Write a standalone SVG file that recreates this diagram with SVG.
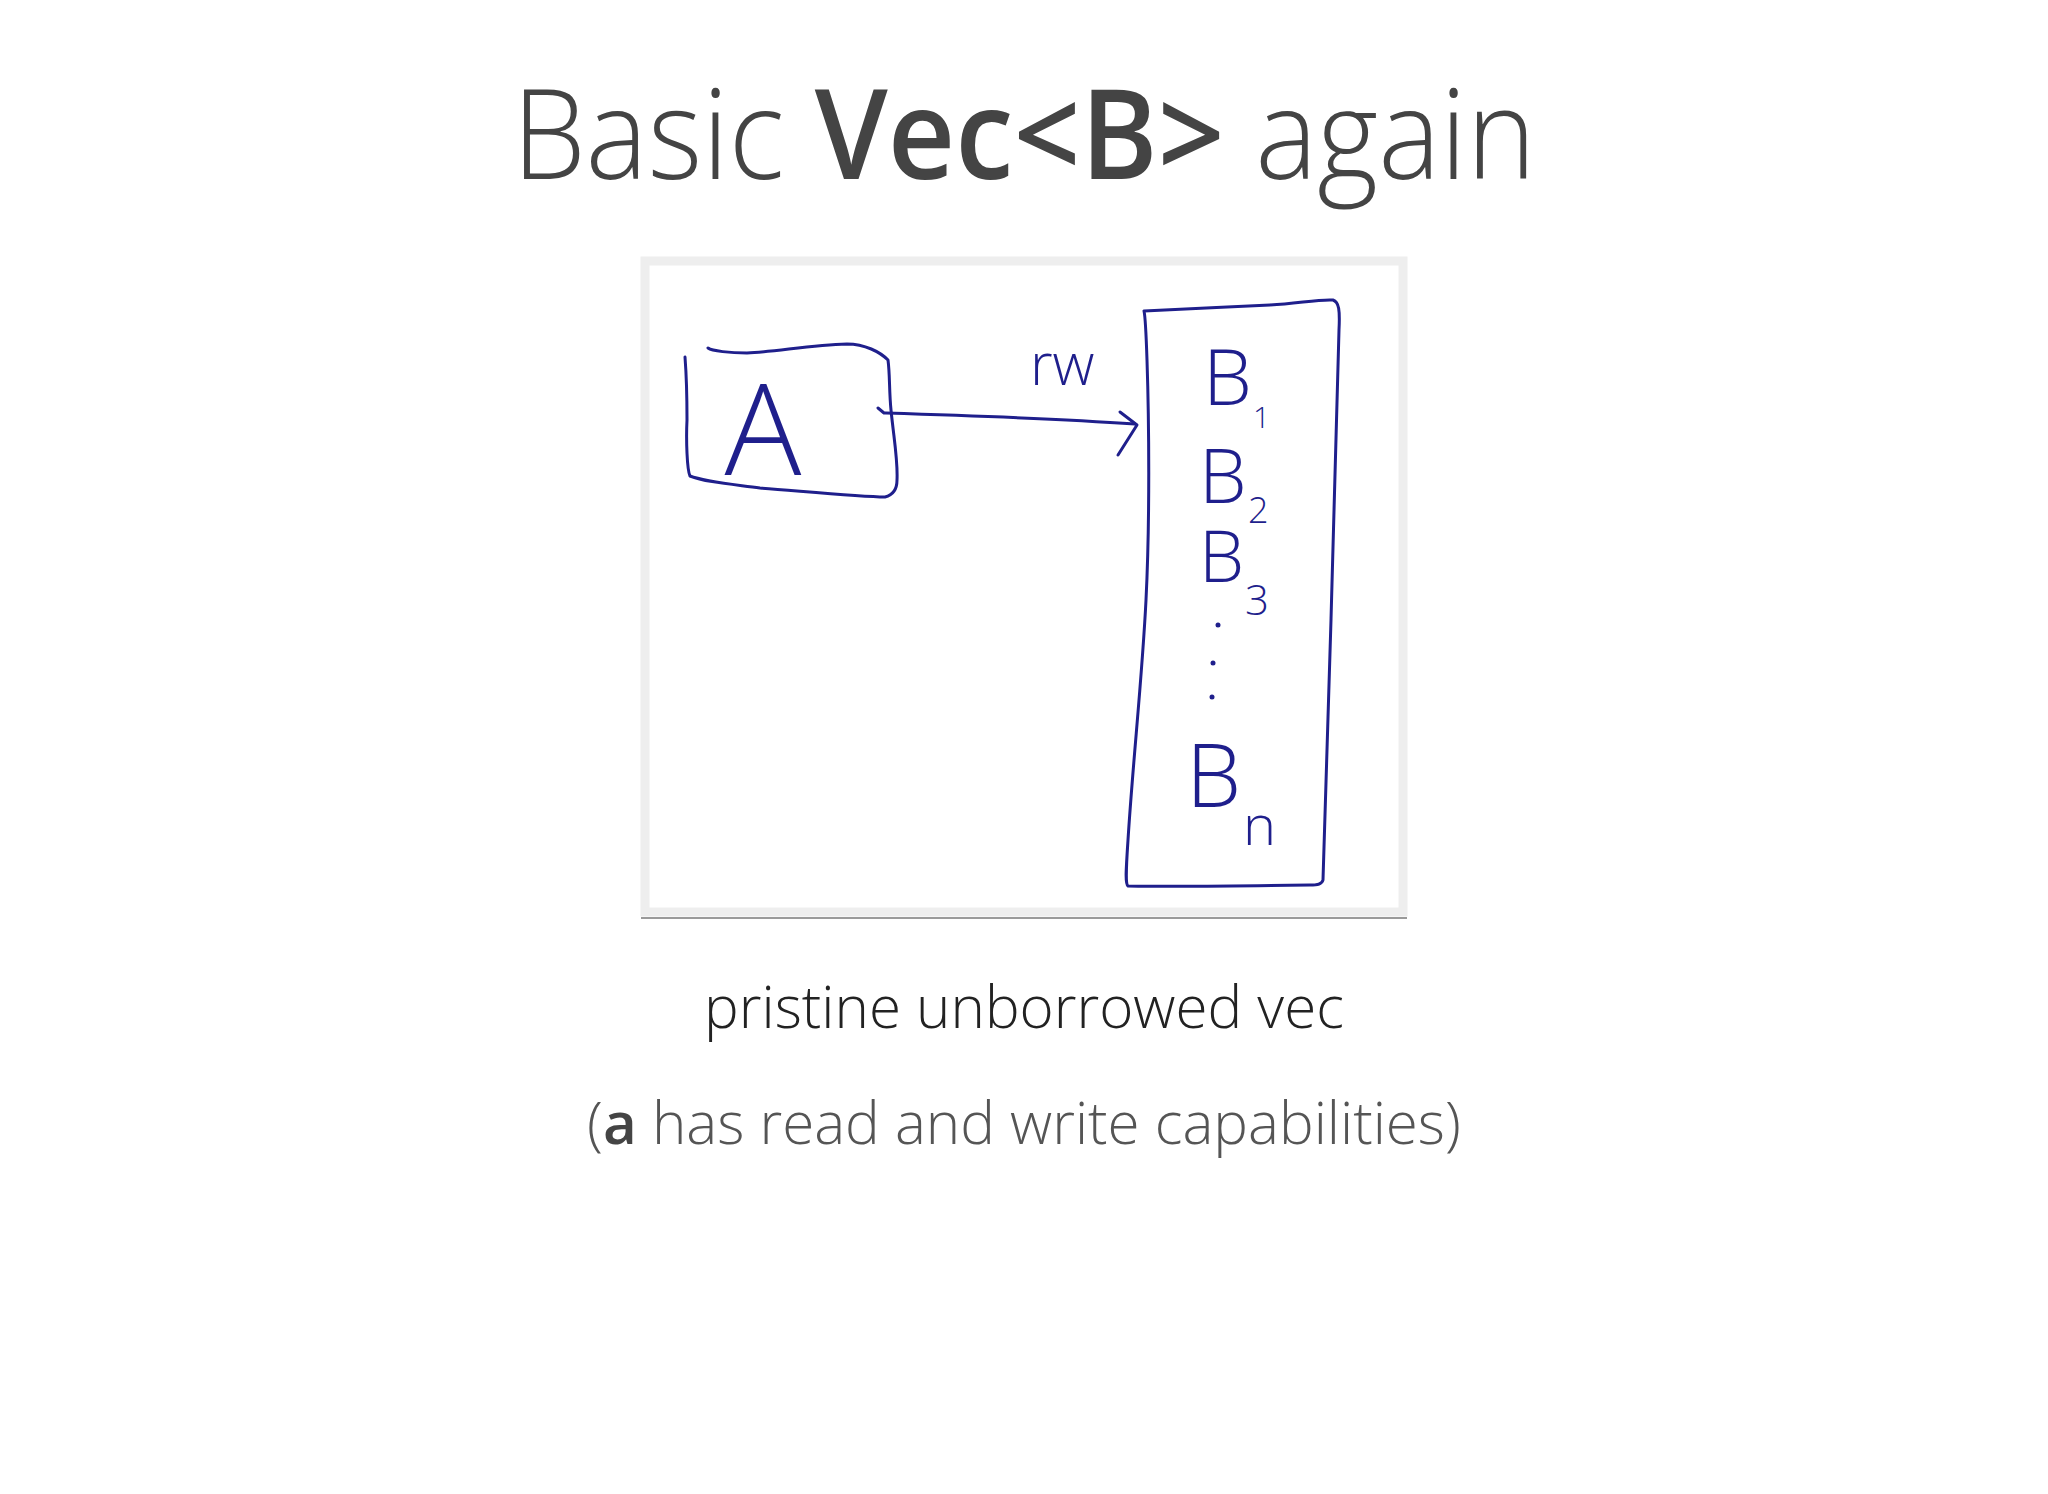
<svg xmlns="http://www.w3.org/2000/svg" width="2048" height="1494" viewBox="0 0 2048 1494">
<style>
.sans{font-family:"Open Sans","Liberation Sans",sans-serif}
.light{font-weight:300}
.semi{font-weight:600}
.ink{fill:none;stroke:#1f1f8c;stroke-width:3;stroke-linecap:round;stroke-linejoin:round}
.hand{font-family:"Open Sans","Liberation Sans",sans-serif;font-weight:300;fill:#1f1f8c}
</style>
<rect width="2048" height="1494" fill="#ffffff"/>
<g id="title">
<text class="sans" transform="translate(1024,179) scale(0.93,1)" x="0" y="0" font-size="126" fill="#444444" text-anchor="middle"><tspan class="light">Basic </tspan><tspan class="semi">Vec&lt;B&gt;</tspan><tspan class="light"> again</tspan></text>
</g>
<g id="frame">
<rect x="645" y="261" width="758" height="651" fill="#ffffff" stroke="#eeeeee" stroke-width="9"/>
<line x1="641" y1="918" x2="1407" y2="918" stroke="#9a9a9a" stroke-width="2"/>
</g>
<g id="node-a">
<path class="ink" d="M708,348 C712,351 730,353 747,353 C775,352 810,345 847,344 C865,344 880,352 888,360 C890,375 889,390 891,410 C894,440 898,460 897,480 C897,490 893,495 885,497 C860,497 800,491 760,488 C730,484 705,482 690,476 C687,470 686,440 687,420 C687,390 686,370 685,357"/>
<text class="hand" x="763" y="475" font-size="128" text-anchor="middle">A</text>
</g>
<g id="node-vec">
<path class="ink" d="M1144,311 C1180,309 1230,307 1270,305 C1300,303 1320,299 1333,300 C1339,302 1340,310 1339,330 C1337,420 1333,520 1331,620 C1328,720 1325,820 1323,880 C1322,884 1318,885 1310,885 C1250,886 1180,887 1128,886 C1125,884 1126,870 1128,840 C1133,760 1142,680 1146,600 C1150,520 1149,420 1147,360 C1146,330 1145,315 1144,311 Z"/>
<text class="hand" x="1203" y="405" font-size="78">B</text>
<text class="hand" x="1253" y="428" font-size="30">1</text>
<text class="hand" x="1199" y="503" font-size="76">B</text>
<text class="hand" x="1248" y="523" font-size="36">2</text>
<text class="hand" x="1199" y="582" font-size="72">B</text>
<text class="hand" x="1245" y="615" font-size="42">3</text>
<circle cx="1218" cy="625" r="2.5" fill="#1f1f8c"/>
<circle cx="1213" cy="663" r="2.5" fill="#1f1f8c"/>
<circle cx="1212" cy="697" r="2.5" fill="#1f1f8c"/>
<text class="hand" x="1186" y="807" font-size="88">B</text>
<text class="hand" x="1243" y="845" font-size="56">n</text>
</g>
<g id="connectors">
<path class="ink" d="M878,408 L884,413 C950,415 1050,418 1135,424"/>
<path class="ink" d="M1120,412 L1137,425 L1118,455"/>
<text class="hand" x="1030" y="385" font-size="58">rw</text>
</g>
<g id="captions">
<text class="sans light" x="1024" y="1028" font-size="58.3" fill="#222222" text-anchor="middle">pristine unborrowed vec</text>
<text class="sans light" x="1024" y="1144" font-size="58.3" fill="#555555" text-anchor="middle">(<tspan class="semi" fill="#444444">a</tspan> has read and write capabilities)</text>
</g>
</svg>
